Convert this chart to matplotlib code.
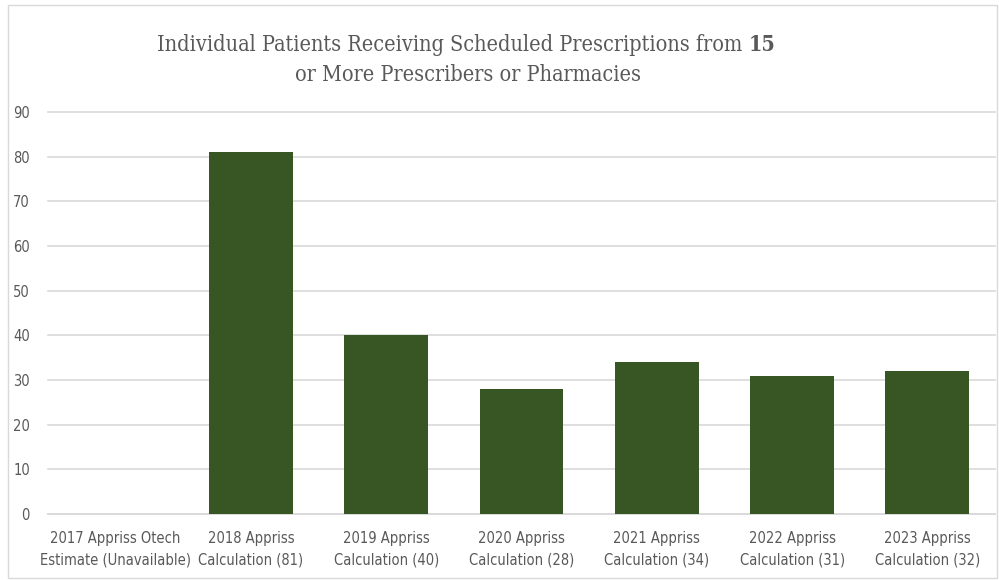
import matplotlib
matplotlib.use("Agg")
import matplotlib.pyplot as plt
from matplotlib.patches import Rectangle

categories = ["2017 Appriss Otech\nEstimate (Unavailable)",
              "2018 Appriss\nCalculation (81)",
              "2019 Appriss\nCalculation (40)",
              "2020 Appriss\nCalculation (28)",
              "2021 Appriss\nCalculation (34)",
              "2022 Appriss\nCalculation (31)",
              "2023 Appriss\nCalculation (32)"]
values = [0, 81, 40, 28, 34, 31, 32]
yticks = [0, 10, 20, 30, 40, 50, 60, 70, 80, 90]

bar_color = "#375623"
text_color = "#595959"
grid_color = "#d9d9d9"

fig = plt.figure(figsize=(9.99, 5.8), dpi=100)
fig.patches.append(Rectangle((8/999, 2/580), 989/999, 573/580, transform=fig.transFigure,
                             fill=False, edgecolor="#d9d9d9", linewidth=1))
ax = fig.add_axes([48/999, (580-514)/580, 947/999, (514-112)/580])
x = range(len(categories))
ax.bar(x, values, width=0.62, color=bar_color, zorder=3)
ax.set_xlim(-0.5, len(categories) - 0.5)
ax.set_ylim(0, 90)
ax.set_yticks(yticks)
ax.set_xticks(list(x))
ax.set_xticklabels(categories, fontsize=10.5, color=text_color, family="DejaVu Sans",
                   fontstretch="condensed", linespacing=1.6)
ax.set_yticklabels([str(v) for v in yticks], fontsize=10.5, color=text_color,
                   family="DejaVu Sans", fontstretch="condensed")
ax.tick_params(axis="both", length=0)
ax.tick_params(axis="x", pad=12)
ax.tick_params(axis="y", pad=13)
ax.yaxis.grid(True, color=grid_color, linewidth=1.2, zorder=0)
for gl in ax.get_ygridlines():
    gl.set_clip_on(False)
for s in ["top", "right", "left"]:
    ax.spines[s].set_visible(False)
ax.spines["bottom"].set_color(grid_color)
ax.spines["bottom"].set_linewidth(1.2)
ax.set_axisbelow(True)

title_kw = dict(fontsize=15.5, color=text_color, family="DejaVu Serif", fontstretch="condensed",
                va="center")
t1_main = "Individual Patients Receiving Scheduled Prescriptions from "
t1_bold = "15"
renderer = fig.canvas.get_renderer()
ta = fig.text(0, 0, t1_main, **title_kw)
tb = fig.text(0, 0, t1_bold, fontweight="bold", **title_kw)
wa = ta.get_window_extent(renderer).width
wb = tb.get_window_extent(renderer).width
total = wa + wb
x0 = (933 - total) / 2 / 999
ta.set_position((x0, 1 - 45/580))
tb.set_position((x0 + wa/999, 1 - 45/580))
fig.text(468/999, 1 - 75/580, "or More Prescribers or Pharmacies", ha="center", **title_kw)

fig.savefig("out.png", dpi=100)
